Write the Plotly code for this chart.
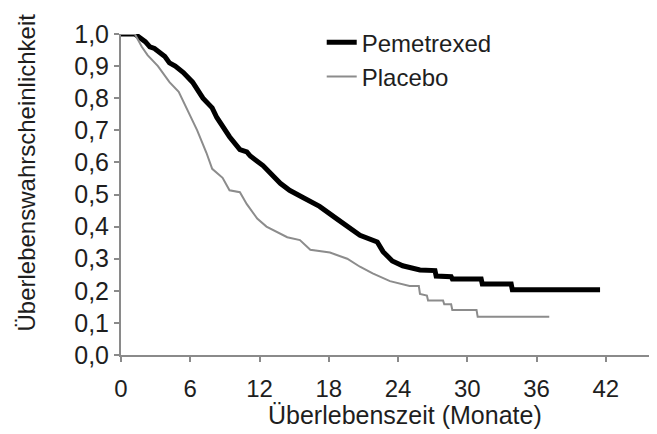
import plotly.graph_objects as go

# Pemetrexed (months, survival probability)
pem_months = [0, 1.2, 2.1, 2.5, 2.9, 3.8, 4.2, 4.7, 5.4, 6.2, 7.1, 7.9, 8.3, 8.8, 9.4,
              10.3, 10.9, 11.2, 12.3, 13.8, 14.6, 15.8, 17.2, 18.7, 19.6, 20.7, 22.2,
              22.7, 23.5, 24.4, 25.9, 27.2, 27.3, 28.6, 28.7, 31.2, 31.3, 33.8, 33.9, 41.5]
pem_surv = [1.0, 1.0, 0.976, 0.96, 0.955, 0.93, 0.91, 0.90, 0.88, 0.85, 0.80, 0.77, 0.74,
            0.71, 0.68, 0.64, 0.633, 0.62, 0.59, 0.535, 0.513, 0.49, 0.463, 0.424, 0.403,
            0.373, 0.352, 0.322, 0.293, 0.278, 0.265, 0.263, 0.246, 0.244, 0.237, 0.237,
            0.221, 0.221, 0.203, 0.203]

# Placebo
pla_months = [0, 1.2, 1.8, 2.3, 3.2, 4.2, 5.0, 5.8, 6.6, 7.4, 7.9, 8.8, 9.4,
              10.3, 10.9, 11.8, 12.6, 14.4, 15.5, 16.4, 18.1, 19.6, 20.7, 21.8,
              23.3, 25.0, 25.8, 25.9, 26.5, 26.6, 27.9, 28.0, 28.6, 28.7, 30.8, 30.9, 37.1]
pla_surv = [1.0, 1.0, 0.96, 0.934, 0.90, 0.85, 0.82, 0.76, 0.70, 0.63, 0.58, 0.552, 0.513,
            0.507, 0.47, 0.425, 0.40, 0.367, 0.358, 0.328, 0.319, 0.30,
            0.275, 0.254, 0.23, 0.215, 0.215, 0.19, 0.185, 0.17, 0.17, 0.158, 0.158, 0.14,
            0.14, 0.119, 0.119]

x_ticks = [0, 6, 12, 18, 24, 30, 36, 42]
y_ticks = [0.0, 0.1, 0.2, 0.3, 0.4, 0.5, 0.6, 0.7, 0.8, 0.9, 1.0]
y_tick_labels = [f"{v:.1f}".replace(".", ",") for v in y_ticks]

FONT = "Liberation Sans, Arial, sans-serif"
TXT = "#1e1e1e"
AX = "#8a8a8a"

fig = go.Figure()
fig.add_trace(go.Scatter(x=pem_months, y=pem_surv, mode="lines", name="Pemetrexed",
                         line=dict(color="#000000", width=5)))
fig.add_trace(go.Scatter(x=pla_months, y=pla_surv, mode="lines", name="Placebo",
                         line=dict(color="#8c8c8c", width=2)))

fig.update_layout(
    width=657, height=434,
    margin=dict(l=113, r=13, t=12, b=87),
    paper_bgcolor="white", plot_bgcolor="white",
    font=dict(family=FONT, size=25, color=TXT),
    legend=dict(x=0.378, y=0.92, xanchor="left", yanchor="middle",
                bgcolor="rgba(0,0,0,0)", font=dict(size=24, color=TXT),
                tracegroupgap=0),
    xaxis=dict(range=[0, 46], tickvals=x_ticks, ticktext=[str(t) for t in x_ticks],
               showgrid=False, zeroline=False, showline=True, linecolor=AX, linewidth=2,
               ticks="outside", ticklen=5, tickwidth=2, tickcolor=AX,
               ticklabelstandoff=6, ticklabeloverflow="allow",
               tickfont=dict(size=24, color=TXT)),
    yaxis=dict(range=[0, 1.0], tickvals=y_ticks, ticktext=y_tick_labels,
               showgrid=False, zeroline=False, showline=True, linecolor=AX, linewidth=2,
               ticks="outside", ticklen=5, tickwidth=2, tickcolor=AX,
               ticklabeloverflow="allow",
               tickfont=dict(size=25, color=TXT)),
    annotations=[
        dict(text="Überlebenszeit (Monate)", xref="paper", yref="paper",
             x=0.535, y=-0.188, xanchor="center", yanchor="middle", showarrow=False,
             font=dict(size=25, color=TXT)),
        dict(text="Überlebenswahrscheinlichkeit", xref="paper", yref="paper",
             x=-0.1773, y=0.568, xanchor="center", yanchor="middle", showarrow=False,
             textangle=-90, font=dict(size=24, color=TXT)),
    ],
)

fig.write_html("out.html")
